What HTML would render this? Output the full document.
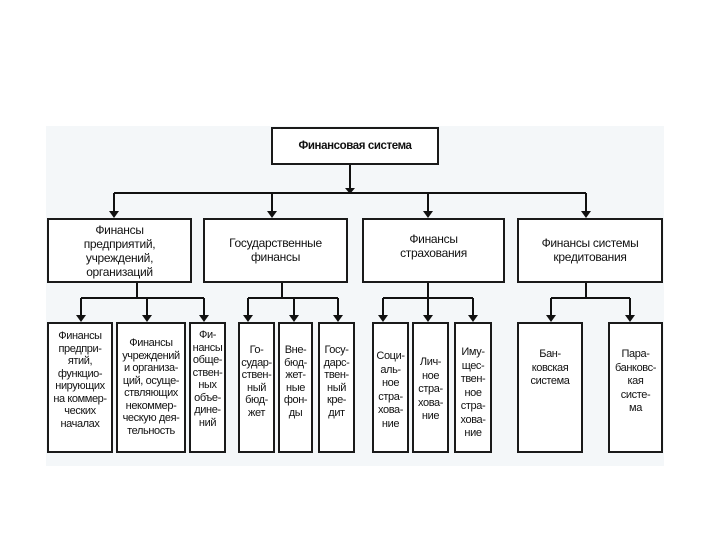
<!DOCTYPE html>
<html><head><meta charset="utf-8"><style>
body{margin:0;width:720px;height:540px;background:#fff;position:relative;overflow:hidden;font-family:"Liberation Sans","DejaVu Sans",sans-serif;color:#111}
#bg{position:absolute;left:46px;top:126px;width:618px;height:340px;background:#f4f7f9}
.b{position:absolute;box-sizing:border-box;border:2px solid #1a1a1a;background:#fff;text-align:center;font-size:11px;letter-spacing:-0.4px;line-height:12.5px}
.m{font-size:12px;line-height:14px;letter-spacing:-0.3px}
svg{position:absolute;left:0;top:0}
</style></head><body>
<div id="bg"></div>
<svg width="720" height="540">
<g stroke="#111" stroke-width="2" fill="none">
<path d="M350 165V192M114 193H586M114 193V214M272 193V214M428 193V214M586 193V214"/>
<path d="M137 283V298M81 298H204M81 298V318M147 298V318M204 298V318"/>
<path d="M282 283V298M248 298H338M248 298V318M294 298V318M338 298V318"/>
<path d="M428 283V298M383 298H473M383 298V318M428 298V318M473 298V318"/>
<path d="M586 283V298M551 298H630M551 298V318M630 298V318"/>
</g>
<g fill="#111">
<path d="M345 188h10l-5 6z"/>
<path d="M109 211h10l-5 7z"/><path d="M267 211h10l-5 7z"/><path d="M423 211h10l-5 7z"/><path d="M581 211h10l-5 7z"/>
<path d="M76 315h10l-5 7z"/><path d="M142 315h10l-5 7z"/><path d="M199 315h10l-5 7z"/>
<path d="M243 315h10l-5 7z"/><path d="M289 315h10l-5 7z"/><path d="M333 315h10l-5 7z"/>
<path d="M378 315h10l-5 7z"/><path d="M423 315h10l-5 7z"/><path d="M468 315h10l-5 7z"/>
<path d="M546 315h10l-5 7z"/><path d="M625 315h10l-5 7z"/>
</g>
</svg>
<div class="b" style="left:271px;top:127px;width:168px;height:38px;font-weight:bold;font-size:11.5px;line-height:34px">Финансовая система</div>
<div class="b m" style="left:47px;top:218px;width:145px;height:65px;padding-top:3px">Финансы<br>предприятий,<br>учреждений,<br>организаций</div>
<div class="b m" style="left:203px;top:218px;width:145px;height:65px;padding-top:16px">Государственные<br>финансы</div>
<div class="b m" style="left:362px;top:218px;width:143px;height:65px;padding-top:12px">Финансы<br>страхования</div>
<div class="b m" style="left:517px;top:218px;width:146px;height:65px;padding-top:16px">Финансы системы<br>кредитования</div>

<div class="b" style="left:47px;top:322px;width:66px;height:131px;padding-top:6px">Финансы<br>предпри-<br>ятий,<br>функцио-<br>нирующих<br>на коммер-<br>ческих<br>началах</div>
<div class="b" style="left:116px;top:322px;width:70px;height:131px;padding-top:13px">Финансы<br>учреждений<br>и организа-<br>ций, осуще-<br>ствляющих<br>некоммер-<br>ческую дея-<br>тельность</div>
<div class="b" style="left:189px;top:322px;width:37px;height:131px;padding-top:5px">Фи-<br>нансы<br>обще-<br>ствен-<br>ных<br>объе-<br>дине-<br>ний</div>
<div class="b" style="left:238px;top:322px;width:37px;height:131px;padding-top:20px">Го-<br>судар-<br>ствен-<br>ный<br>бюд-<br>жет</div>
<div class="b" style="left:278px;top:322px;width:35px;height:131px;padding-top:20px">Вне-<br>бюд-<br>жет-<br>ные<br>фон-<br>ды</div>
<div class="b" style="left:318px;top:322px;width:37px;height:131px;padding-top:20px">Госу-<br>дарс-<br>твен-<br>ный<br>кре-<br>дит</div>
<div class="b" style="left:372px;top:322px;width:37px;height:131px;padding-top:26px;line-height:13.5px">Соци-<br>аль-<br>ное<br>стра-<br>хова-<br>ние</div>
<div class="b" style="left:412px;top:322px;width:37px;height:131px;padding-top:32px;line-height:13.5px">Лич-<br>ное<br>стра-<br>хова-<br>ние</div>
<div class="b" style="left:454px;top:322px;width:38px;height:131px;padding-top:22px;line-height:13.5px">Иму-<br>щес-<br>твен-<br>ное<br>стра-<br>хова-<br>ние</div>
<div class="b" style="left:517px;top:322px;width:66px;height:131px;padding-top:24px;line-height:13.5px">Бан-<br>ковская<br>система</div>
<div class="b" style="left:608px;top:322px;width:55px;height:131px;padding-top:24px;line-height:13.5px">Пара-<br>банковс-<br>кая<br>систе-<br>ма</div>
</body></html>
